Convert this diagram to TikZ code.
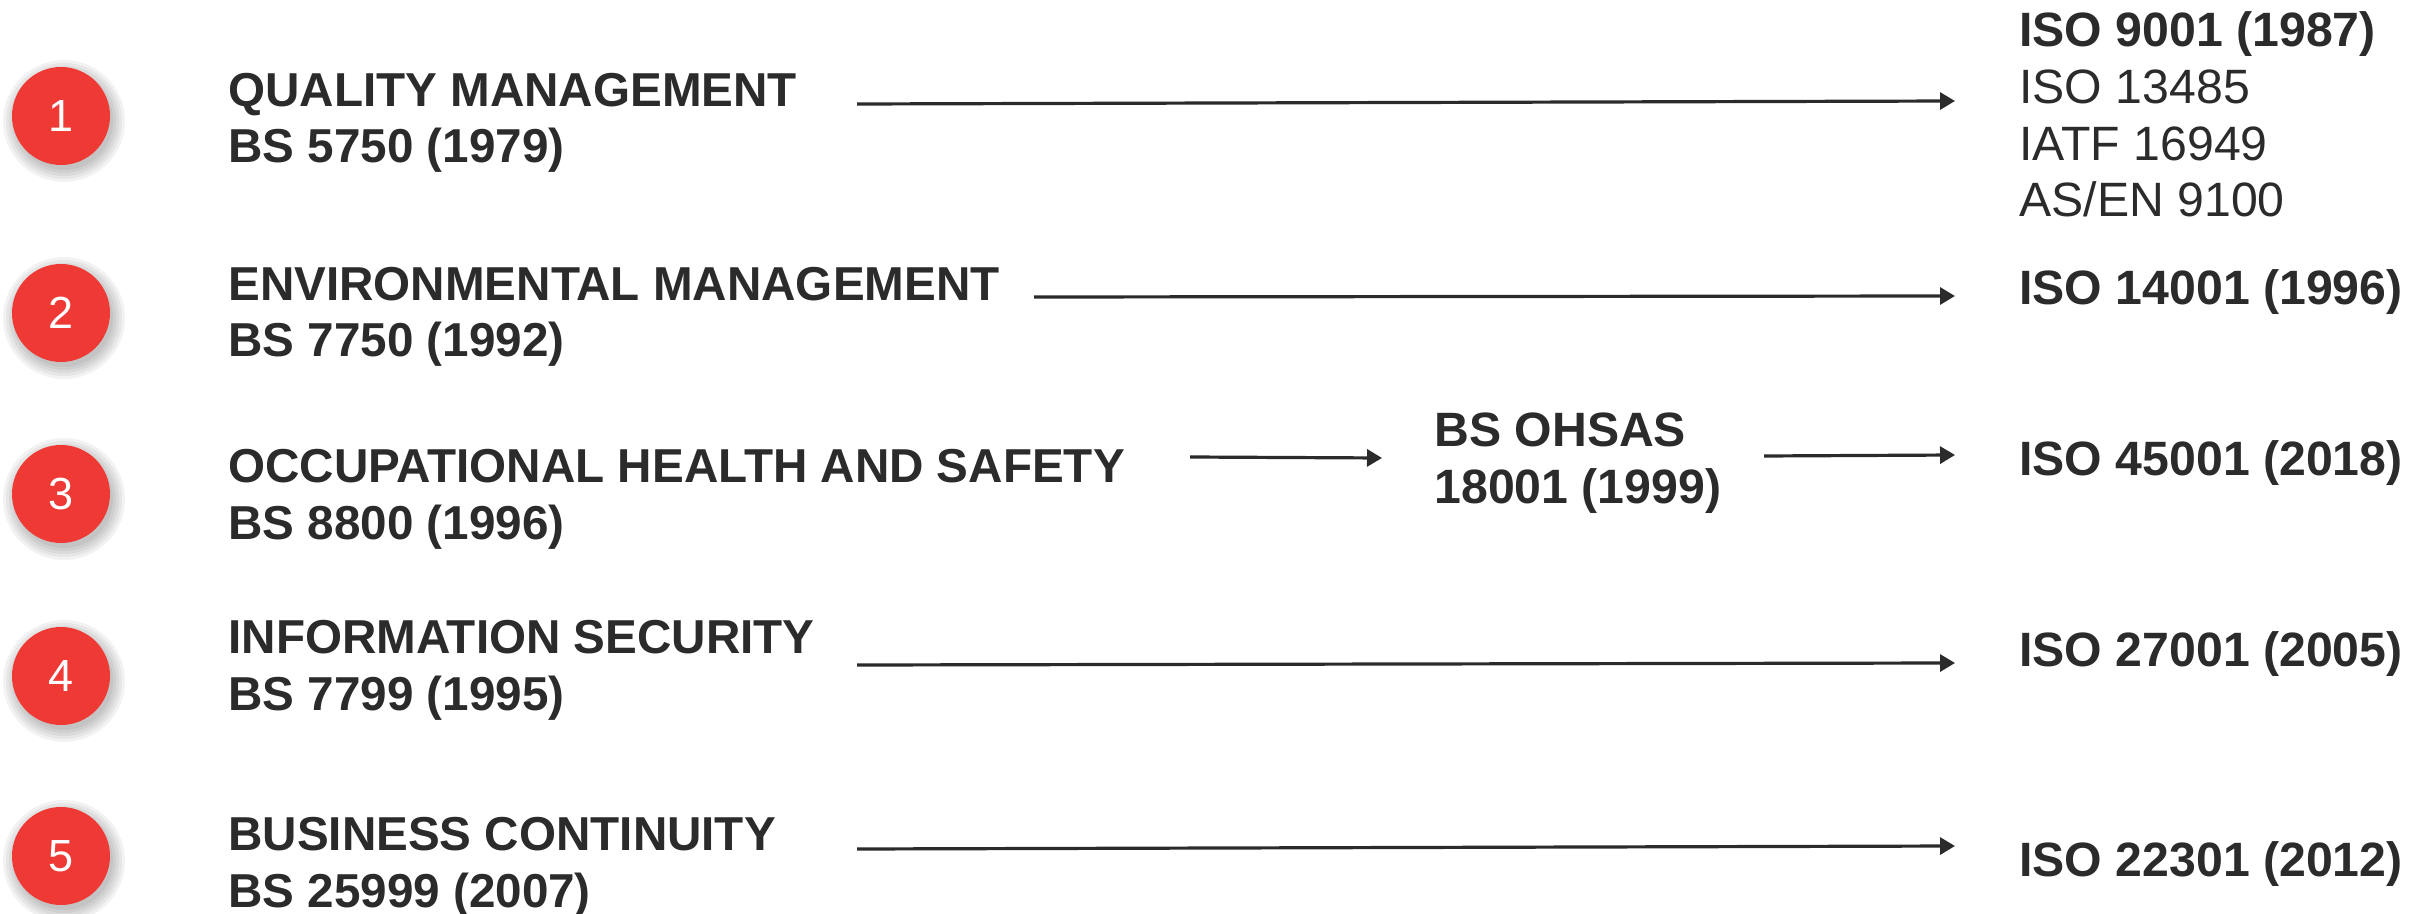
\documentclass[tikz,border=0pt]{standalone}
\usepackage{fontspec}
\setmainfont{Liberation Sans}
\usetikzlibrary{arrows.meta}

\definecolor{txtgray}{HTML}{2B2B2B}
\definecolor{badgered}{HTML}{EF3935}

\tikzset{
  badge/.style={circle,fill=badgered,minimum size=49pt,inner sep=0pt,
    text=white,font=\fontsize{22.5}{24}\selectfont},
  stdname/.style={anchor=base west,align=left,inner sep=0pt,text=txtgray,
    font=\fontsize{23.8}{28.4}\selectfont\bfseries},
  isoname/.style={anchor=base west,align=left,inner sep=0pt,text=txtgray,
    font=\fontsize{24.1}{28.4}\selectfont\bfseries},
  evolve/.style={draw=txtgray,line width=1.6pt,
    -{Triangle[length=7.5pt,width=8.5pt]}}
}

\newcommand{\badgeshadow}[1]{%
  \foreach \r in {49,52,55,58,61}
    \fill[black,opacity=0.05] ([shift={(3,5)}]#1) circle(\r);}

\begin{document}
\begin{tikzpicture}[x=0.5pt,y=-0.5pt]
  \useasboundingbox (0,0) rectangle (2431,914);

  % numbered badges
  \badgeshadow{61,116}
  \badgeshadow{61,313}
  \badgeshadow{61,494}
  \badgeshadow{61,676}
  \badgeshadow{61,856}
  \node[badge] (n1) at (61,116) {1};
  \node[badge] (n2) at (61,313) {2};
  \node[badge] (n3) at (61,494) {3};
  \node[badge] (n4) at (61,676) {4};
  \node[badge] (n5) at (61,856) {5};

  % british standards (base of last line)
  \node[stdname] (l1) at (228,163) {QUALITY MANAGEMENT\\BS 5750 (1979)};
  \node[stdname] (l2) at (228,357) {ENVIRONMENTAL MANAGEMENT\\BS 7750 (1992)};
  \node[stdname] (l3) at (228,539) {OCCUPATIONAL HEALTH AND SAFETY\\BS 8800 (1996)};
  \node[stdname] (l4) at (228,710) {INFORMATION SECURITY\\BS 7799 (1995)};
  \node[stdname] (l5) at (228,907) {BUSINESS CONTINUITY\\BS 25999 (2007)};

  % intermediate standard
  \node[isoname] (m3) at (1434,503) {BS OHSAS\\18001 (1999)};

  % iso standards
  \node[isoname] (t1) at (2019,217) {ISO 9001 (1987)\\\mdseries ISO 13485\\\mdseries IATF 16949\\\mdseries AS/EN 9100};
  \node[isoname] (t2) at (2019,305) {ISO 14001 (1996)};
  \node[isoname] (t3) at (2019,476) {ISO 45001 (2018)};
  \node[isoname] (t4) at (2019,666) {ISO 27001 (2005)};
  \node[isoname] (t5) at (2019,876) {ISO 22301 (2012)};

  % arrows
  \coordinate (a1s) at (857,104);  \coordinate (a1e) at (1955,101);
  \coordinate (a2s) at (1034,297); \coordinate (a2e) at (1955,296);
  \coordinate (a3s) at (1190,457); \coordinate (a3m) at (1382,458);
  \coordinate (a3n) at (1764,456); \coordinate (a3e) at (1955,455);
  \coordinate (a4s) at (857,665);  \coordinate (a4e) at (1955,663);
  \coordinate (a5s) at (857,849);  \coordinate (a5e) at (1955,846);

  \draw[evolve] (a1s) -- (a1e);
  \draw[evolve] (a2s) -- (a2e);
  \draw[evolve] (a3s) -- (a3m);
  \draw[evolve] (a3n) -- (a3e);
  \draw[evolve] (a4s) -- (a4e);
  \draw[evolve] (a5s) -- (a5e);
\end{tikzpicture}
\end{document}
